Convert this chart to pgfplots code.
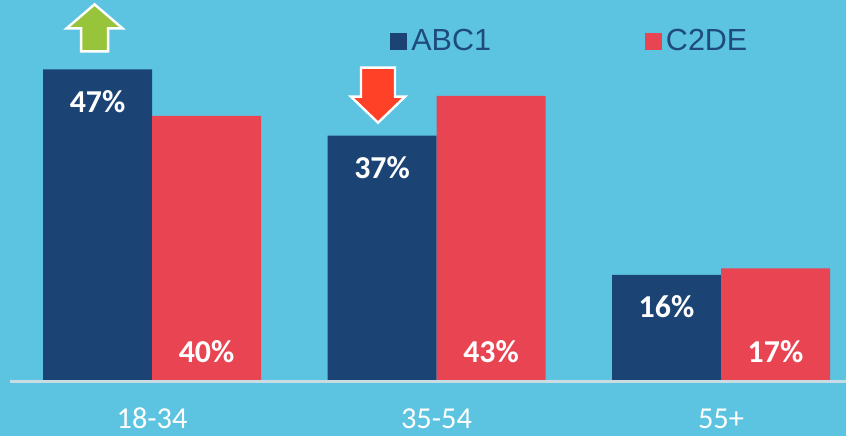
\documentclass[border=0pt]{standalone}
\usepackage{pgfplots}
\pgfplotsset{compat=1.18}
\usepackage{fontspec}
\setmainfont{Carlito}
\newfontfamily\legfont{Liberation Sans}
\definecolor{bgblue}{HTML}{5CC4E1}
\definecolor{navy}{HTML}{1B4474}
\definecolor{barred}{HTML}{E84452}
\definecolor{legtext}{HTML}{1F4A7E}
\definecolor{upgreen}{HTML}{98C43C}
\definecolor{downred}{HTML}{FF4128}
\definecolor{axisgray}{HTML}{C9DCE3}
\begin{document}
\begin{tikzpicture}
\fill[bgblue] (0,-27.5bp) rectangle (423bp,190.5bp);
\begin{axis}[
    scale only axis,
    width=423bp, height=190.5bp,
    ybar=0pt,
    bar width=54.5bp,
    xmin=-0.5345, xmax=2.4394,
    ymin=0, ymax=57.466,
    xtick=data,
    xticklabels={18-34, 35-54, 55+},
    ytick=\empty,
    major tick length=0pt,
    axis line style={draw=none},
    xticklabel style={anchor=base, yshift=-23.5bp, text=white,
        font=\fontsize{15.25}{18}\selectfont},
    nodes near coords={\pgfmathprintnumber[assume math mode=true]{\pgfplotspointmeta}\%},
    every node near coord/.append style={anchor=center, text=white,
        font=\bfseries\fontsize{16}{19}\selectfont},
    legend columns=2,
    legend style={at={(rel axis cs:0.461,0.892)}, anchor=west,
        draw=none, fill=none, inner sep=0pt, text=legtext,
        font=\legfont\fontsize{15.3}{18}\selectfont,
        /tikz/every even column/.append style={column sep=75bp}},
    legend image code/.code={\fill (0bp,-4.2bp) rectangle (8.5bp,4.3bp);},
    clip=false,
]
\addplot[fill=navy, draw=none,
    every node near coord/.append style={yshift=-16bp}]
    coordinates {(0,47) (1,37) (2,16)};
\addplot[fill=barred, draw=none,
    visualization depends on={y \as \rawy},
    every node near coord/.append style={yshift={14.5bp-\rawy*3.315bp}}]
    coordinates {(0,40) (1,43) (2,17)};
\legend{ABC1, C2DE}
\draw[axisgray, line width=1.5bp] (axis cs:-0.499,0) -- (axis cs:2.4394,0);
\coordinate (gtop) at (axis cs:0,47);
\coordinate (rtop) at (axis cs:1,37);
\end{axis}
% green up arrow over the 18-34 ABC1 bar
\draw[white, line width=1.2bp, fill=upgreen, line join=miter]
    ([xshift=-28.75bp]gtop)
    ++(-6.75bp,9bp) -- ++(0,11.5bp) -- ++(-7.25bp,0) -- ++(14bp,12bp)
    -- ++(14bp,-12bp) -- ++(-7.25bp,0) -- ++(0,-11.5bp) -- cycle;
% red down arrow over the 35-54 ABC1 bar
\draw[white, line width=1.2bp, fill=downred, line join=miter]
    ([xshift=-29.25bp]rtop)
    ++(0,6.5bp) -- ++(-13.5bp,13bp) -- ++(5bp,0) -- ++(0,14.5bp)
    -- ++(17bp,0) -- ++(0,-14.5bp) -- ++(5bp,0) -- cycle;
\pgfresetboundingbox
\path[use as bounding box] (0,-27.5bp) rectangle (423bp,190.5bp);
\end{tikzpicture}
\end{document}
